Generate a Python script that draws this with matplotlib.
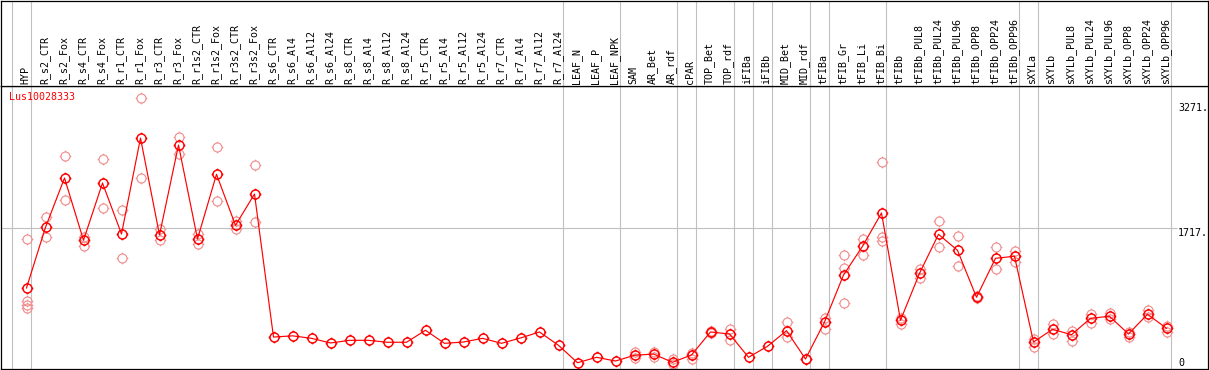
import matplotlib
matplotlib.use("Agg")
import matplotlib.pyplot as plt
from matplotlib.path import Path
import numpy as np

# ---------------- data ----------------
gene_id = "Lus10028333"

categories = ["HYP", "R_s2_CTR", "R_s2_Fox", "R_s4_CTR", "R_s4_Fox", "R_r1_CTR", "R_r1_Fox",
              "R_r3_CTR", "R_r3_Fox", "R_r1s2_CTR", "R_r1s2_Fox", "R_r3s2_CTR", "R_r3s2_Fox",
              "R_s6_CTR", "R_s6_Al4", "R_s6_Al12", "R_s6_Al24", "R_s8_CTR", "R_s8_Al4",
              "R_s8_Al12", "R_s8_Al24", "R_r5_CTR", "R_r5_Al4", "R_r5_Al12", "R_r5_Al24",
              "R_r7_CTR", "R_r7_Al4", "R_r7_Al12", "R_r7_Al24", "LEAF_N", "LEAF_P", "LEAF_NPK",
              "SAM", "AR_Bet", "AR_rdf", "cPAR", "TOP_Bet", "TOP_rdf", "iFIBa", "iFIBb",
              "MID_Bet", "MID_rdf", "tFIBa", "tFIB_Gr", "tFIB_Li", "tFIB_Bi", "tFIBb",
              "tFIBb_PUL8", "tFIBb_PUL24", "tFIBb_PUL96", "tFIBb_OPP8", "tFIBb_OPP24",
              "tFIBb_OPP96", "sXYLa", "sXYLb", "sXYLb_PUL8", "sXYLb_PUL24", "sXYLb_PUL96",
              "sXYLb_OPP8", "sXYLb_OPP24", "sXYLb_OPP96"]

means = [975, 1729, 2342, 1568, 2280, 1646, 2839, 1634, 2752, 1584, 2388, 1754, 2143,
         365, 380, 349, 291, 324, 324, 300, 300, 449, 287, 303, 349, 287, 353, 428, 262,
         46, 113, 67, 138, 154, 51, 142, 428, 403, 113, 250, 444, 92, 552, 1136, 1493, 1907,
         573, 1157, 1642, 1443, 859, 1344, 1369,
         303, 461, 394, 598, 623, 403, 648, 474]

replicates = [
    [1584, 813, 763, 722], [1857, 1605], [2616, 2065], [1612, 1501], [2578, 1966],
    [1941, 1348], [3333, 2342], [1708, 1568], [2852, 2637], [1642, 1518], [2728, 2053],
    [1811, 1704], [2504, 1791],
    [], [], [], [], [], [], [], [], [], [], [], [], [], [], [], [],
    [], [], [],
    [179, 101], [179, 117], [92, 34], [170, 92], [440, 415], [461, 328], [], [],
    [548, 362], [98, 86], [602, 469], [1381, 1223, 784], [1588, 1381], [2537, 1605, 1563],
    [531, 602], [1215, 1103], [1804, 1488], [1625, 1244], [869, 851], [1481, 1207],
    [1435, 1302],
    [341, 245], [531, 407], [444, 316], [655, 540], [668, 586], [431, 366], [697, 610],
    [506, 431],
]

group_starts = [0, 1, 29, 32, 35, 36, 38, 39, 40, 42, 43, 46, 53, 54, 61]
gridline_value = 1717
axis_values = [3271, 1717, 0]
axis_labels = ["3271.", "1717.", "0"]

# ---------------- layout (pixels) ----------------
W, H = 1209, 370
fig = plt.figure(figsize=(W / 100, H / 100), dpi=100)
fig.patch.set_facecolor("white")

def fx(px):
    return px / W

def fy(py):
    return 1 - py / H

X0, DX = 26.5, 19.0           # pixel position of first category and spacing
LEFT, RIGHT = 1.0, 1208.0
HEAD_TOP, HEAD_BOT, PLOT_BOT = 0.5, 85.5, 369.0
Y0PX, YSCALE = 366.4, 0.08044  # pixel of value 0, pixels per unit

xlim = ((LEFT - X0) / DX, (RIGHT - X0) / DX)
ylim = ((Y0PX - PLOT_BOT) / YSCALE, (Y0PX - HEAD_BOT) / YSCALE)

ax = fig.add_axes([fx(LEFT), fy(PLOT_BOT), (RIGHT - LEFT) / W, (PLOT_BOT - HEAD_BOT) / H])
hx = fig.add_axes([fx(LEFT), fy(HEAD_BOT), (RIGHT - LEFT) / W, (HEAD_BOT - HEAD_TOP) / H])

for a in (ax, hx):
    a.set_xlim(*xlim)
    a.set_xticks([])
    a.set_yticks([])
    for s in a.spines.values():
        s.set_color("black")
        s.set_linewidth(0.9)
ax.set_ylim(*ylim)
hx.set_ylim(0, 1)

GRID = "#c0c0c0"
MONO = "DejaVu Sans Mono"
FS = 7.2

# group separators
for g in group_starts:
    xs = g - 15 / DX
    ax.axvline(xs, color=GRID, lw=0.8, zorder=0)
    hx.axvline(xs, color=GRID, lw=0.8, zorder=0)

# horizontal gridline
ax.hlines(gridline_value, xlim[0], (1177 - X0) / DX, color=GRID, lw=0.8, zorder=0)

# header labels
n = len(categories)
for i, c in enumerate(categories):
    hx.text(i - 1 / DX, (HEAD_BOT - 83.5) / (HEAD_BOT - HEAD_TOP), c, rotation=90,
            ha="center", va="bottom", fontsize=FS, family=MONO,
            transform=hx.get_xaxis_transform())

# marker: circle with four small ticks
circ = Path.unit_circle()
t = 1.3
tick_verts = np.array([(0, 1), (0, t), (0, -1), (0, -t), (1, 0), (t, 0), (-1, 0), (-t, 0)])
tick_codes = np.array([Path.MOVETO, Path.LINETO] * 4)
marker = Path(np.concatenate([circ.vertices, tick_verts]),
              np.concatenate([circ.codes, tick_codes]))
MS = 8.4

# replicates
for i, reps in enumerate(replicates):
    if reps:
        ax.plot([i] * len(reps), reps, linestyle="none", marker=marker, ms=MS,
                mfc="none", mec="#f09090", mew=0.85, zorder=2)

# mean line
ax.plot(range(n), means, color="red", lw=0.85, marker=marker, ms=MS,
        mfc="none", mec="red", mew=1.05, zorder=3)

# right-side value labels
lx = (1178 - X0) / DX
for v, lab in zip(axis_values, axis_labels):
    ax.text(lx, v, lab, ha="left", va="baseline" if v == 0 else "top",
            fontsize=FS, family=MONO, color="black", zorder=4)

# gene id
fig.text(fx(9.5), fy(91.5), gene_id, ha="left", va="top", fontsize=FS,
         family=MONO, color="red")

fig.savefig("out.png", dpi=100)
